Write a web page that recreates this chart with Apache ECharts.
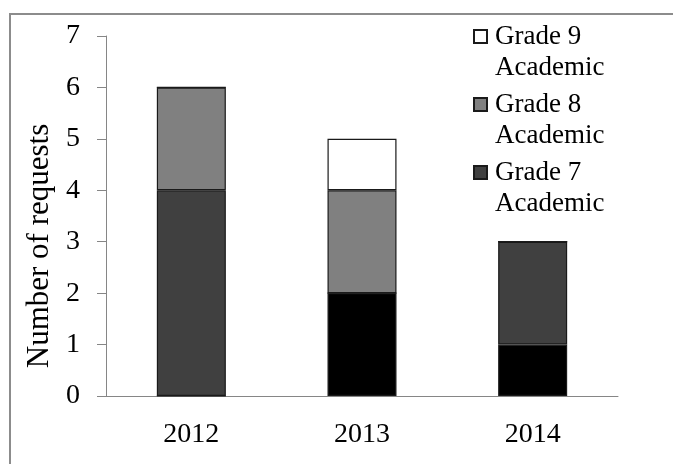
<!DOCTYPE html>
<html>
<head>
<meta charset="utf-8">
<script src="https://cdn.jsdelivr.net/npm/echarts@6/dist/echarts.min.js"></script>
<style>
  html, body { margin: 0; padding: 0; background: #fff; }
  #chart { width: 673px; height: 464px; }
</style>
</head>
<body>
<div id="chart"></div>
<script>
// data
var years = ['2012', '2013', '2014']
var other = [0, 2, 1]        // black segment, not in the legend
var grade7 = [4, 0, 2]
var grade8 = [2, 2, 0]
var grade9 = [0, 1, 0]
var yTicks = [0, 7, 1]       // min, max, interval

var font = 'Liberation Serif'
// square at the top, an empty point lower down so the text lines up with its first line
var legendIcon = 'path://M0,0H13V13H0Z M0,44L0,44'

var chart = echarts.init(document.getElementById('chart'))

function bar(name, data, color) {
  return {
    name: name,
    type: 'bar',
    stack: 'all',
    barWidth: 69,
    data: data,
    itemStyle: { color: color, borderColor: '#1a1a1a', borderWidth: 1.2 }
  }
}

var option = {
  animation: false,
  backgroundColor: '#fff',
  graphic: [{
    type: 'rect',
    z: -1,
    shape: { x: 10, y: 14, width: 700, height: 500 },
    style: { fill: 'none', stroke: '#8c8c8c', lineWidth: 2 }
  }],
  grid: { left: 106, right: 55, top: 36, bottom: 68 },
  legend: {
    orient: 'vertical',
    left: 473,
    top: 21,
    padding: 0,
    itemGap: 6,
    itemWidth: 13,
    itemHeight: 44,
    icon: legendIcon,
    data: ['Grade 9\nAcademic', 'Grade 8\nAcademic', 'Grade 7\nAcademic'],
    textStyle: { fontFamily: font, fontSize: 27, lineHeight: 31, color: '#000', padding: [0, 0, 0, 3] }
  },
  xAxis: {
    type: 'category',
    data: years,
    axisLine: { lineStyle: { color: '#868686', width: 1 } },
    axisTick: { length: 9, lineStyle: { color: '#868686' } },
    axisLabel: { fontFamily: font, fontSize: 28, color: '#000', margin: 25 }
  },
  yAxis: {
    type: 'value',
    min: yTicks[0],
    max: yTicks[1],
    interval: yTicks[2],
    name: 'Number of requests',
    nameLocation: 'middle',
    nameGap: 44,
    nameTextStyle: { fontFamily: font, fontSize: 31, color: '#000', padding: [0, 60, 0, 0] },
    axisLine: { show: true, lineStyle: { color: '#868686', width: 1 } },
    axisTick: { show: true, length: 9, lineStyle: { color: '#868686' } },
    axisLabel: { fontFamily: font, fontSize: 28, color: '#000', margin: 26 },
    splitLine: { show: false }
  },
  series: [
    bar('Other', other, '#000000'),
    bar('Grade 7\nAcademic', grade7, '#404040'),
    bar('Grade 8\nAcademic', grade8, '#808080'),
    bar('Grade 9\nAcademic', grade9, '#ffffff')
  ]
}

chart.setOption(option)
</script>
</body>
</html>
